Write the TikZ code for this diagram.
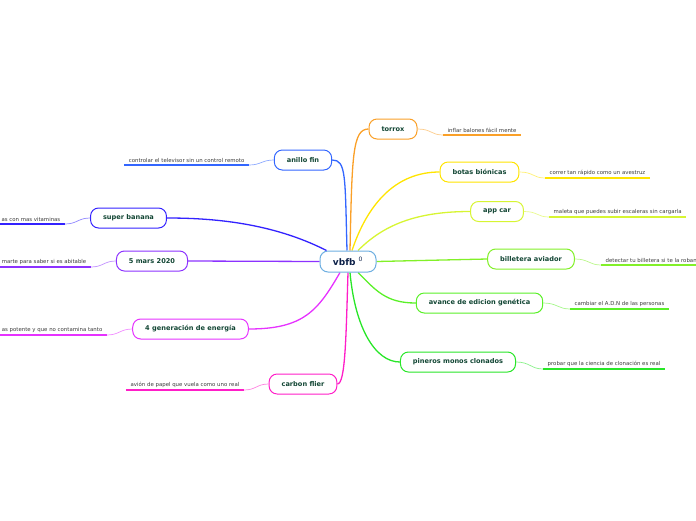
\documentclass[tikz,border=0pt]{standalone}
\usepackage{fontspec}
\setmainfont{DejaVu Sans}
\usetikzlibrary{positioning,backgrounds}
\definecolor{TopicText}{RGB}{18,70,52}
\definecolor{RootText}{RGB}{12,32,72}
\definecolor{SubText}{RGB}{60,60,60}
\definecolor{RootBlue}{RGB}{110,175,225}
\definecolor{Torrox}{RGB}{250,160,40}
\definecolor{Anillo}{RGB}{51,102,255}
\definecolor{Botas}{RGB}{255,228,0}
\definecolor{Banana}{RGB}{51,34,255}
\definecolor{AppCar}{RGB}{215,245,50}
\definecolor{Mars}{RGB}{140,50,255}
\definecolor{Billetera}{RGB}{130,240,40}
\definecolor{Avance}{RGB}{90,240,40}
\definecolor{Pineros}{RGB}{40,230,40}
\definecolor{Energia}{RGB}{230,50,255}
\definecolor{Flier}{RGB}{255,30,200}
\tikzset{
  topic/.style={draw=#1,rounded corners=8pt,fill=white,line width=1pt,
    minimum height=20pt,inner xsep=12.5pt,text=TopicText,
    font=\fontsize{6.6}{7.5}\selectfont\bfseries},
  rootbox/.style={draw=RootBlue,rounded corners=8pt,fill=white,line width=1pt,
    minimum width=56pt,minimum height=21pt,text=RootText,
    font=\fontsize{9}{10}\selectfont\bfseries},
  subtopic/.style={inner xsep=4.5pt,inner ysep=2.5pt,text=SubText,
    font=\fontsize{5.4}{6.5}\selectfont,
    append after command={(\tikzlastnode.south west) edge[draw=#1,line width=1.7pt]
      (\tikzlastnode.south east)}},
  branch/.style={draw=#1,line width=1.3pt},
  twig/.style={draw=#1!55,line width=0.7pt},
}

\begin{document}
\begin{tikzpicture}[x=1pt,y=-1pt]
\useasboundingbox (0,0) rectangle (696,520);
\clip (0,0) rectangle (696,520);
% centre
\node[rootbox] (vbfb) at (348,261.5) {vbfb \textsuperscript{\mdseries 0}};
% topics
\node[topic=Torrox] (torrox) at (393,129) {torrox};
\node[topic=Anillo] (anillo) at (303,160) {anillo fin};
\node[topic=Botas] (botas) at (479.5,172) {botas biónicas};
\node[topic=Banana] (banana) at (128.5,218) {super banana};
\node[topic=AppCar] (appcar) at (497,211.5) {app car};
\node[topic=Mars] (mars) at (152,261) {5 mars 2020};
\node[topic=Billetera] (billetera) at (531,259) {billetera aviador};
\node[topic=Avance] (avance) at (479.5,303) {avance de edicion genética};
\node[topic=Energia] (energia) at (190.5,329) {4 generación de energía};
\node[topic=Pineros] (pineros) at (458,362) {pineros monos clonados};
\node[topic=Flier] (flier) at (303,384) {carbon flier};
% branches
\begin{scope}[on background layer]
\draw[branch=Torrox] ([xshift=2pt]vbfb.north) .. controls +(2,-95) and +(-16,0) .. (torrox.west);
\draw[branch=Anillo] ([xshift=-1pt]vbfb.north) .. controls +(-2,-75) and +(14,0) .. (anillo.east);
\draw[branch=Botas] ([xshift=4pt]vbfb.north) .. controls +(15,-45) and +(-45,0) .. (botas.west);
\draw[branch=AppCar] ([xshift=10pt]vbfb.north) .. controls +(25,-25) and +(-55,0) .. (appcar.west);
\draw[branch=Banana] ([xshift=7pt]vbfb.north west) .. controls +(-55,-28) and +(45,0) .. (banana.east);
\draw[branch=Mars] (vbfb.west) -- (mars.east);
\draw[branch=Billetera] (vbfb.east) -- (billetera.west);
\draw[branch=Avance] ([xshift=10pt]vbfb.south) .. controls +(18,18) and +(-30,0) .. (avance.west);
\draw[branch=Pineros] ([xshift=2pt]vbfb.south) .. controls +(5,55) and +(-25,0) .. (pineros.west);
\draw[branch=Flier] (vbfb.south) .. controls +(-2,65) and +(8,0) .. (flier.east);
\draw[branch=Energia] ([xshift=-8pt]vbfb.south) .. controls +(-22,38) and +(55,0) .. (energia.east);
\end{scope}
% subtopics
\node[subtopic=Torrox,anchor=south west] (inflar) at (443,135) {inflar balones fácil mente};
\node[subtopic=Anillo,anchor=south east] (controlar) at (249,165) {controlar el televisor sin un control remoto};
\node[subtopic=Botas,anchor=south west] (correr) at (545,178) {correr tan rápido como un avestruz};
\node[subtopic=Banana,anchor=south east] (vitaminas) at (65,224) {as con mas vitaminas};
\node[subtopic=AppCar,anchor=south west] (maleta) at (549,217) {maleta que puedes subir escaleras sin cargarla};
\node[subtopic=Mars,anchor=south east] (marte) at (91,267) {marte para saber si es abitable};
\node[subtopic=Billetera,anchor=south west] (detectar) at (601,265) {detectar tu billetera si te la roban};
\node[subtopic=Avance,anchor=south west] (cambiar) at (570,309) {cambiar el A.D.N de las personas};
\node[subtopic=Energia,anchor=south east] (potente) at (107,335) {as potente y que no contamina tanto};
\node[subtopic=Pineros,anchor=south west] (probar) at (543,369) {probar que la ciencia de clonación es real};
\node[subtopic=Flier,anchor=south east] (avion) at (244,390) {avión de papel que vuela como uno real};
% twigs
\draw[twig=Torrox] (torrox.east) .. controls +(14,0) and +(-12,0) .. (inflar.south west);
\draw[twig=Anillo] (anillo.west) .. controls +(-12,0) and +(12,0) .. (controlar.south east);
\draw[twig=Botas] (botas.east) .. controls +(14,0) and +(-12,0) .. (correr.south west);
\draw[twig=Banana] (banana.west) .. controls +(-12,0) and +(12,0) .. (vitaminas.south east);
\draw[twig=AppCar] (appcar.east) .. controls +(14,0) and +(-12,0) .. (maleta.south west);
\draw[twig=Mars] (mars.west) .. controls +(-12,0) and +(12,0) .. (marte.south east);
\draw[twig=Billetera] (billetera.east) .. controls +(14,0) and +(-12,0) .. (detectar.south west);
\draw[twig=Avance] (avance.east) .. controls +(14,0) and +(-12,0) .. (cambiar.south west);
\draw[twig=Energia] (energia.west) .. controls +(-12,0) and +(12,0) .. (potente.south east);
\draw[twig=Pineros] (pineros.east) .. controls +(14,0) and +(-12,0) .. (probar.south west);
\draw[twig=Flier] (flier.west) .. controls +(-12,0) and +(12,0) .. (avion.south east);
\end{tikzpicture}
\end{document}
